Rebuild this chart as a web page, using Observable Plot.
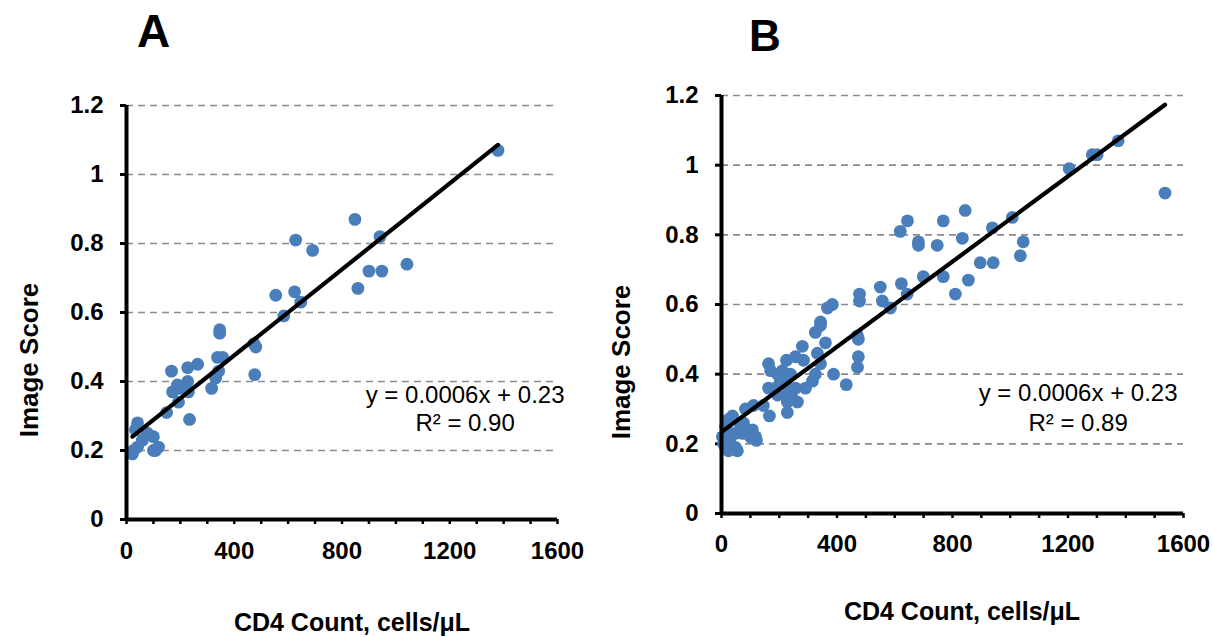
<!DOCTYPE html>
<html>
<head>
<meta charset="utf-8">
<script src="https://cdn.jsdelivr.net/npm/d3@7"></script>
<script src="https://cdn.jsdelivr.net/npm/@observablehq/plot@0.6"></script>
<style>
  html, body { margin: 0; padding: 0; background: #fff; }
  #root { position: relative; width: 1213px; height: 637px; overflow: hidden; font-family: "Liberation Sans", Arial, sans-serif; }
  #root > svg, #root > div { position: absolute; }
</style>
</head>
<body>
<div id="root"></div>
<script>
// ---- Data ----
const panelA_x = [22, 26, 41, 33, 41, 59, 78, 100, 100, 108, 119, 149, 167, 171, 189, 193, 200, 227, 230, 227, 234, 264, 316, 331, 342, 338, 357, 346, 346, 473, 480, 476, 554, 584, 624, 628, 647, 691, 848, 859, 900, 941, 948, 1041, 1379];
const panelA_y = [0.19, 0.20, 0.21, 0.26, 0.28, 0.23, 0.25, 0.24, 0.20, 0.20, 0.21, 0.31, 0.43, 0.37, 0.39, 0.34, 0.38, 0.40, 0.37, 0.44, 0.29, 0.45, 0.38, 0.41, 0.43, 0.47, 0.47, 0.55, 0.54, 0.51, 0.50, 0.42, 0.65, 0.59, 0.66, 0.81, 0.63, 0.78, 0.87, 0.67, 0.72, 0.82, 0.72, 0.74, 1.07];

const panelB_x = [3, 7, 14, 14, 24, 24, 31, 31, 38, 48, 48, 55, 66, 73, 76, 83, 90, 100, 107, 111, 118, 121, 145, 163, 166, 170, 163, 187, 194, 194, 204, 211, 221, 225, 228, 228, 228, 239, 246, 256, 256, 263, 280, 284, 291, 315, 325, 325, 332, 343, 343, 343, 360, 367, 384, 388, 432, 471, 474, 474, 471, 478, 478, 550, 557, 585, 619, 623, 643, 644, 682, 682, 699, 747, 768, 768, 810, 834, 844, 855, 896, 938, 941, 1007, 1035, 1045, 1204, 1284, 1301, 1374, 1536];
const panelB_y = [0.22, 0.20, 0.19, 0.25, 0.27, 0.18, 0.20, 0.23, 0.28, 0.19, 0.23, 0.18, 0.25, 0.23, 0.26, 0.30, 0.24, 0.22, 0.24, 0.31, 0.22, 0.21, 0.31, 0.43, 0.28, 0.41, 0.36, 0.36, 0.40, 0.34, 0.38, 0.41, 0.37, 0.44, 0.29, 0.32, 0.34, 0.40, 0.33, 0.36, 0.45, 0.32, 0.48, 0.44, 0.36, 0.38, 0.40, 0.52, 0.46, 0.43, 0.55, 0.54, 0.49, 0.59, 0.60, 0.40, 0.37, 0.51, 0.50, 0.45, 0.42, 0.63, 0.61, 0.65, 0.61, 0.59, 0.81, 0.66, 0.63, 0.84, 0.78, 0.77, 0.68, 0.77, 0.84, 0.68, 0.63, 0.79, 0.87, 0.67, 0.72, 0.82, 0.72, 0.85, 0.74, 0.78, 0.99, 1.03, 1.03, 1.07, 0.92];

const yTicks = [0, 0.2, 0.4, 0.6, 0.8, 1, 1.2];
const yGrid = [0.2, 0.4, 0.6, 0.8, 1, 1.2];
const xMinorTicks = d3.range(0, 1601, 100);
const xLabelTicks = [0, 400, 800, 1200, 1600];
const equations = { A: ["y = 0.0006x + 0.23", "R² = 0.90"], B: ["y = 0.0006x + 0.23", "R² = 0.89"] };
const panelLabels = ["A", "B"];
const xTitle = "CD4 Count, cells/μL";
const yTitle = "Image Score";

const dotColor = "#4a7ebb";
const FONT = "Liberation Sans, Arial, sans-serif";

function makePanel(xs, ys, eq, eqPos, opts) {
  const data = xs.map((x, i) => ({ x, y: ys[i] }));
  const eqData = [
    { x: eqPos.x, y: eqPos.y1, t: eq[0] },
    { x: eqPos.x, y: eqPos.y2, t: eq[1] }
  ];
  return Plot.plot({
    width: opts.width,
    height: opts.height,
    marginLeft: opts.ml,
    marginRight: opts.mr,
    marginTop: opts.mt,
    marginBottom: opts.mb,
    style: { fontFamily: FONT, fontSize: "24px", fontWeight: "bold", color: "#000", background: "transparent", overflow: "visible" },
    x: { domain: [0, 1600] },
    y: { domain: [0, 1.2] },
    marks: [
      Plot.ruleY(yGrid, { stroke: "#8c8c8c", strokeWidth: 1.6, strokeDasharray: "7,5" }),
      Plot.axisY({ ticks: yTicks, tickFormat: d => String(d), tickSize: 6, tickPadding: 17, strokeWidth: 3, fontSize: 24, fontWeight: "bold", label: null }),
      Plot.axisX({ ticks: xMinorTicks, tickFormat: d => (xLabelTicks.includes(d) ? String(d) : ""), tickSize: 5, strokeWidth: 2.5, tickPadding: opts.xpad, fontSize: 24, fontWeight: "bold", label: null }),
      Plot.dot(data, { x: "x", y: "y", r: 6.4, fill: dotColor, stroke: "none" }),
      Plot.linearRegressionY(data, { x: "x", y: "y", ci: 0, stroke: "#000", strokeWidth: 4.2 }),
      Plot.ruleX([0], { stroke: "#000", strokeWidth: 4 }),
      Plot.ruleY([0], { stroke: "#000", strokeWidth: 4 }),
      Plot.text(eqData, { x: "x", y: "y", text: "t", fontSize: 24, fontWeight: "normal", fill: "#000", textAnchor: "middle" })
    ]
  });
}

const root = document.getElementById("root");

const pA = makePanel(panelA_x, panelA_y, equations.A, { x: 1257, y1: 0.36, y2: 0.278 },
  { width: 606, height: 637, ml: 126, mr: 49, mt: 105, mb: 118, xpad: 17 });
pA.style.left = "0px"; pA.style.top = "0px";
root.appendChild(pA);

const pB = makePanel(panelB_x, panelB_y, equations.B, { x: 1235, y1: 0.345, y2: 0.259 },
  { width: 607, height: 637, ml: 115, mr: 30, mt: 95, mb: 124, xpad: 16 });
pB.style.left = "606px"; pB.style.top = "0px";
root.appendChild(pB);

// Titles overlay
const ns = "http://www.w3.org/2000/svg";
const ov = document.createElementNS(ns, "svg");
ov.setAttribute("width", 1213); ov.setAttribute("height", 637);
ov.style.left = "0px"; ov.style.top = "0px"; ov.style.pointerEvents = "none";
function addText(t, x, y, size, anchor, rot) {
  const el = document.createElementNS(ns, "text");
  el.textContent = t;
  el.setAttribute("font-family", FONT);
  el.setAttribute("font-weight", "bold");
  el.setAttribute("font-size", size);
  el.setAttribute("text-anchor", anchor);
  if (rot) el.setAttribute("transform", `translate(${x},${y}) rotate(-90)`);
  else { el.setAttribute("x", x); el.setAttribute("y", y); }
  ov.appendChild(el);
}
addText(panelLabels[0], 137, 47, 46, "start");
addText(panelLabels[1], 749, 51, 44, "start");
addText(xTitle, 352, 631, 25, "middle");
addText(xTitle, 962, 620, 25, "middle");
addText(yTitle, 38, 360, 26, "middle", true);
addText(yTitle, 630, 362, 26, "middle", true);
root.appendChild(ov);
</script>
</body>
</html>
